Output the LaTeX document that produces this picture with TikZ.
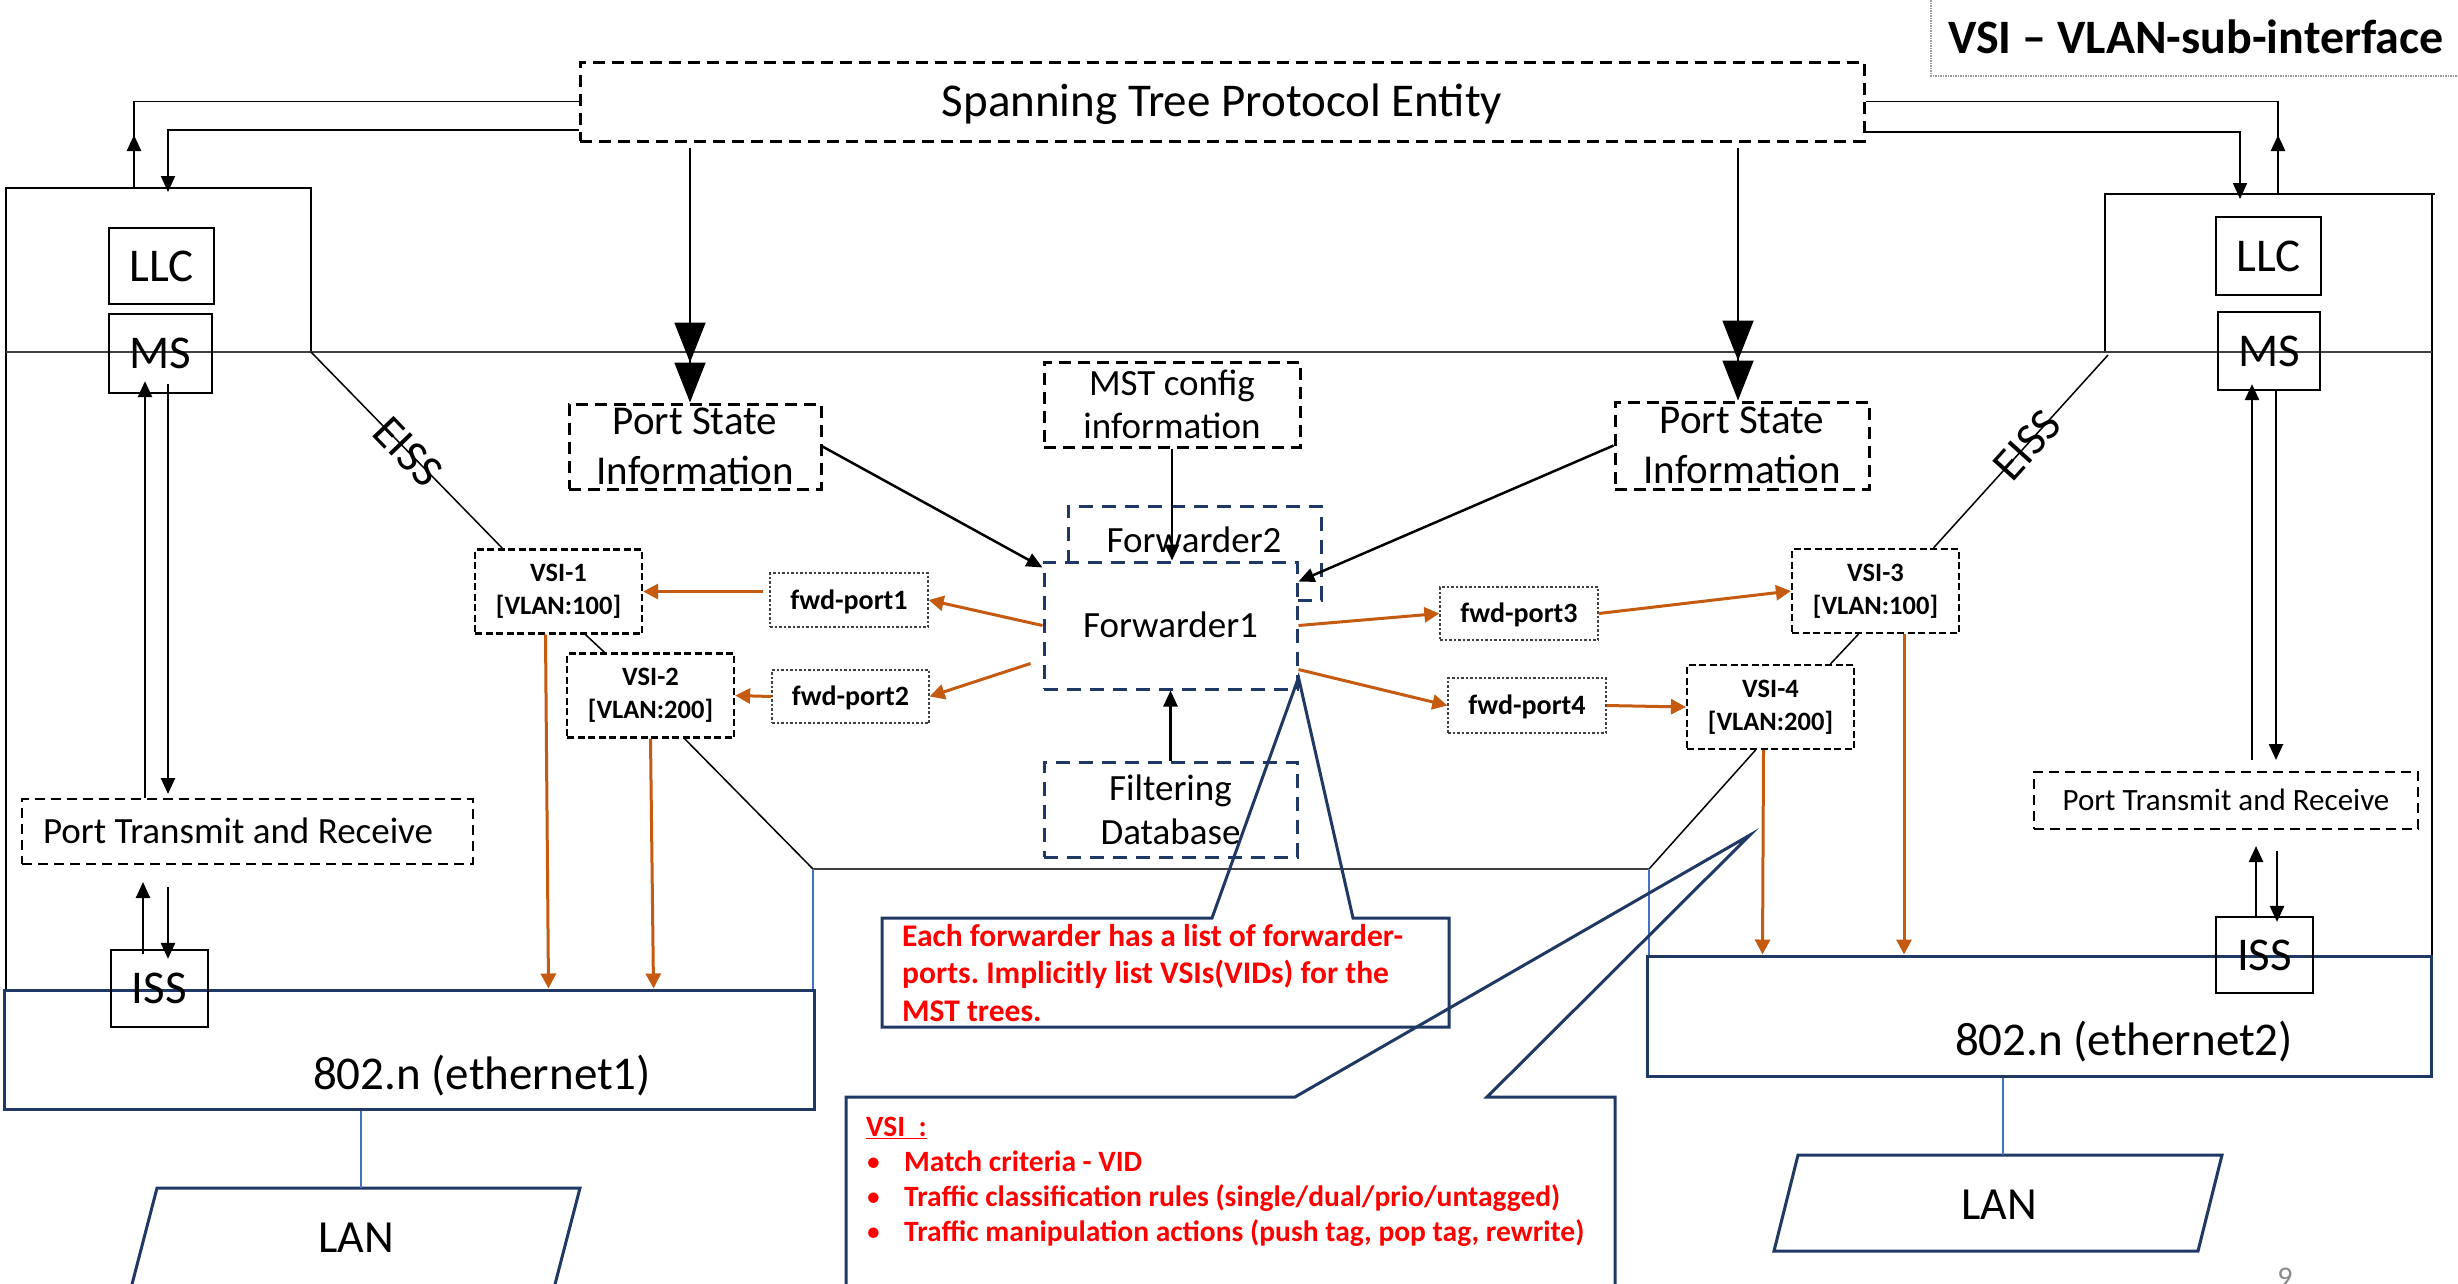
\documentclass[tikz,border=0pt]{standalone}
\usepackage{fontspec}
\setmainfont{Carlito}
\usetikzlibrary{arrows.meta}
\frenchspacing

\definecolor{navy}{HTML}{203864}
\definecolor{burnt}{HTML}{C55A11}
\definecolor{linkblue}{HTML}{4472C4}
\definecolor{alertred}{HTML}{FF0000}
\definecolor{rulegray}{HTML}{404040}
\definecolor{framegray}{HTML}{9A9A9A}
\definecolor{pagegray}{HTML}{8C8C8C}

\newcommand\fsz[2]{\fontsize{#1bp}{#2bp}\selectfont}

\tikzset{
  box/.style={draw=black, line width=2.2bp, inner sep=0pt},
  stack/.style={box, font={\fsz{47}{56}}, text height=30.3bp, text depth=0pt},
  stpbox/.style={draw=black, line width=3bp, dash pattern=on 12bp off 7bp, inner sep=0pt},
  vsibox/.style={draw=black, line width=2.2bp, dash pattern=on 7bp off 3.5bp, inner sep=0pt,
    align=center, font={\bfseries\fsz{26.5}{33}}, minimum width=167bp, minimum height=84bp},
  portbox/.style={draw=rulegray, line width=1.3bp, dash pattern=on 2.5bp off 2bp, inner sep=0pt,
    font={\bfseries\fsz{28}{34}}, text height=18bp, text depth=0pt,
    minimum width=158bp, minimum height=54bp},
  fwdbox/.style={draw=navy, line width=3bp, dash pattern=on 14bp off 9bp, inner sep=0pt,
    minimum width=253bp},
  ptrbox/.style={draw=black, line width=2bp, dash pattern=on 10bp off 6bp, inner sep=0pt},
  ethbox/.style={draw=navy, line width=3bp, inner sep=0pt},
  thinline/.style={line width=1.5bp},
  ctl/.style={draw=black, line width=2.5bp, -{Triangle[width=14bp,length=16bp]}},
  fwdarrow/.style={draw=burnt, line width=3bp, -{Triangle[width=15bp,length=15bp]}},
  bigtips/.style={draw=black, line width=1.8bp,
    -{Triangle[width=31bp,length=40bp,sep=0bp] Triangle[width=31bp,length=40bp]}},
  callout/.style={draw=navy, line width=3bp},
  note/.style={text=alertred, inner sep=0pt, align=left},
}

\begin{document}
\begin{tikzpicture}[x=1bp,y=-1bp]
\useasboundingbox (0,0) rectangle (2458,1283);
\fill[white] (0,0) rectangle (2458,1283);

% ---- heading at the top right
\draw[framegray, line width=1.2bp, dash pattern=on 1.5bp off 1bp] (1931,-10) -- (1931,76) -- (2470,76);
\node[anchor=base west, inner sep=0pt, font={\bfseries\fsz{48}{58}}] (title) at (1948,53) {VSI – VLAN-sub-interface};

% ---- spanning tree entity
\node[stpbox, minimum width=1284bp, minimum height=79bp, font={\fsz{47}{56}}, text height=30.3bp, text depth=0pt]
  (stp) at (1222,101.5) {Spanning Tree Protocol Entity};

% ---- bridge port frames and the layer line
\draw[thinline] (6,990) -- (6,188) -- (311,188) -- (311,352);
\draw[thinline] (2105,352) -- (2105,194) -- (2435,194);
\draw[thinline] (2432,194) -- (2432,958);
\draw[rulegray, thinline] (6,352) -- (2432,352);
\coordinate (eissL) at (311,352);
\coordinate (eissR) at (2108,355);
\coordinate (upL) at (134,188);
\coordinate (dnL) at (168,188);
\coordinate (upR) at (2278,194);
\coordinate (dnR) at (2240,194);

% ---- protocol stacks
\node[stack, minimum width=105bp, minimum height=76bp] (llcL) at (161.5,266) {LLC};
\node[stack, minimum width=103bp, minimum height=79bp] (msL) at (160.5,353.5) {MS};
\node[stack, minimum width=105bp, minimum height=78bp] (llcR) at (2268.5,256) {LLC};
\node[stack, minimum width=102bp, minimum height=78bp] (msR) at (2269,351) {MS};

% ---- port transmit / receive
\node[ptrbox, minimum width=451bp, minimum height=65bp] (ptrL) at (247.5,831.5) {};
\node[font={\fsz{37}{44}}, text height=23.8bp, text depth=0pt, inner sep=0pt] (ptrLtxt) at (238,831.5) {Port Transmit and Receive};
\node[ptrbox, minimum width=384bp, minimum height=57bp, font={\fsz{31}{37}}, text height=20bp, text depth=0pt]
  (ptrR) at (2226,800.5) {Port Transmit and Receive};

% ---- media
\node[ethbox, minimum width=809bp, minimum height=119bp] (eth1) at (409.5,1049.5) {};
\node[anchor=base, font={\fsz{47}{56}}, inner sep=0pt] (eth1txt) at (482,1089) {802.n (ethernet1)};
\node[ethbox, minimum width=784bp, minimum height=120bp] (eth2) at (2039,1016) {};
\node[anchor=base, font={\fsz{47}{56}}, inner sep=0pt] (eth2txt) at (2124,1055) {802.n (ethernet2)};

\node[stack, minimum width=97bp, minimum height=77bp] (issL) at (159.5,988.5) {ISS};
\node[stack, minimum width=97bp, minimum height=76bp] (issR) at (2264.5,955) {ISS};

% ---- LAN segments
\draw[navy, line width=3bp] (157,1188) -- (580,1188) -- (553,1292) -- (130,1292) -- cycle;
\node[anchor=base, font={\fsz{46}{55}}, inner sep=0pt] (lanL) at (356,1252) {LAN};
\coordinate (lanLtop) at (361,1188);
\draw[navy, line width=3bp] (1798,1155) -- (2222,1155) -- (2198,1251) -- (1774,1251) -- cycle;
\node[anchor=base, font={\fsz{46}{55}}, inner sep=0pt] (lanR) at (1999,1219) {LAN};
\coordinate (lanRtop) at (2003,1155);
\draw[linkblue, line width=1.5bp] (eth1.south -| lanLtop) -- (lanLtop);
\draw[linkblue, line width=1.5bp] (eth2.south -| lanRtop) -- (lanRtop);

% ---- port state and configuration
\node[stpbox, minimum width=252bp, minimum height=85bp, align=center, font={\fsz{41}{50}}] (psiL) at (695,446.5) {Port State\\Information};
\node[stpbox, minimum width=254bp, minimum height=87bp, align=center, font={\fsz{41}{50}}] (psiR) at (1742,445.5) {Port State\\Information};
\node[stpbox, minimum width=256bp, minimum height=85bp, align=center, font={\fsz{37}{43}}] (mst) at (1172,404.5) {MST config\\information};

% ---- forwarders
\node[fwdbox, minimum height=94bp] (f2) at (1194.5,553) {};
\node[anchor=base, font={\fsz{37}{44}}, inner sep=0pt] (f2txt) at (1194,552) {Forwarder2};
\node[fwdbox, fill=white, minimum height=127bp, font={\fsz{37}{44}}, text height=23.8bp, text depth=0pt] (f1) at (1170.5,625.5) {Forwarder1};
\node[fwdbox, minimum height=95bp, align=center, font={\fsz{37}{44}}] (fdb) at (1170.5,809.5) {Filtering\\Database};

% ---- VLAN sub-interfaces and forwarder ports
\node[vsibox] (vsi1) at (558.5,591.5) {VSI-1\\{[VLAN:100]}};
\node[vsibox] (vsi2) at (650.5,695.5) {VSI-2\\{[VLAN:200]}};
\node[vsibox] (vsi3) at (1875.5,591) {VSI-3\\{[VLAN:100]}};
\node[vsibox] (vsi4) at (1770.5,707) {VSI-4\\{[VLAN:200]}};

\node[portbox] (fp1) at (849,600) {fwd-port1};
\node[portbox, minimum width=157bp, minimum height=53bp] (fp2) at (850.5,696.5) {fwd-port2};
\node[portbox, minimum height=53bp] (fp3) at (1519,613.5) {fwd-port3};
\node[portbox, minimum height=55bp] (fp4) at (1527,705.5) {fwd-port4};

% ---- EISS links
\draw[thinline] (eissL) -- ([xshift=-56bp]vsi1.north);
\draw[thinline] (eissR) -- ([xshift=58bp]vsi3.north);
\node[font={\fsz{46}{55}}, rotate=-46, inner sep=0pt] (eissLtxt) at (408,452) {EISS};
\node[font={\fsz{46}{55}}, rotate=48, inner sep=0pt] (eissRtxt) at (2027,445) {EISS};
\draw[thinline] ([xshift=27bp]vsi1.south) -- ([xshift=-46bp]vsi2.north);
\draw[thinline] ([xshift=-17bp]vsi3.south) -- ([xshift=60bp]vsi4.north);
\coordinate (jL) at (813,869);
\coordinate (jR) at (1649,869);
\draw[thinline] ([xshift=34bp]vsi2.south) -- (jL);
\draw[thinline] ([xshift=-15bp]vsi4.south) -- (jR);
\draw[rulegray, thinline] (jL) -- (jR);
\draw[linkblue, line width=1.5bp] (jL) -- (jL |- eth1.north);
\draw[linkblue, line width=1.5bp] (jR) -- (jR |- eth2.north);

% ---- spanning tree entity to the ports
\draw[thinline] (stp.west) -| (upL);
\draw[ctl] (upL) -- ++(0,-53);
\draw[ctl, line width=2bp] ([yshift=-28.5bp]stp.west) -| ([yshift=-4bp]dnL);
\draw[thinline] (stp.east) -| (upR);
\draw[ctl] (upR) -- ++(0,-59);
\draw[ctl, line width=2bp] ([yshift=-30.5bp]stp.east) -| ([yshift=-5bp]dnR);

\draw[bigtips] ([xshift=-5bp,yshift=-5bp]psiL.north |- stp.south) -- ([xshift=-5bp]psiL.north);
\draw[bigtips] ([xshift=-4bp,yshift=-5bp]psiR.north |- stp.south) -- ([xshift=-4bp]psiR.north);

% ---- stack arrows
\draw[ctl] ([xshift=-15.5bp]msL.south |- ptrL.north) -- ([xshift=-15.5bp,yshift=13bp]msL.south);
\draw[ctl] ([xshift=7.5bp,yshift=10bp]msL.south) -- ([xshift=7.5bp,yshift=4bp]msL.south |- ptrL.north);
\draw[ctl] ([xshift=-16.5bp,yshift=-5bp]issL.north) -- ([xshift=-16.5bp,yshift=-17bp]issL.north |- ptrL.south);
\draw[ctl] ([xshift=8.5bp,yshift=-22bp]issL.north |- ptrL.south) -- ([xshift=8.5bp,yshift=-10bp]issL.north);

\draw[ctl] ([xshift=-17bp,yshift=11bp]msR.south |- ptrR.north) -- ([xshift=-17bp,yshift=7bp]msR.south);
\draw[ctl] ([xshift=7bp]msR.south) -- ([xshift=7bp,yshift=11bp]msR.south |- ptrR.north);
\draw[ctl] ([xshift=-8.5bp]issR.north) -- ([xshift=-8.5bp,yshift=-16bp]issR.north |- ptrR.south);
\draw[ctl] ([xshift=12.5bp,yshift=-21bp]issR.north |- ptrR.south) -- ([xshift=12.5bp,yshift=-6bp]issR.north);

% ---- inputs of the forwarder
\draw[ctl] (psiL.east) -- ([yshift=-7bp]f1.north west);
\draw[ctl] (psiR.west) -- ([yshift=-21bp]f1.north east);
\draw[ctl] (mst.south) -- (mst.south |- f1.north);
\draw[ctl] (fdb.north) -- (f1.south);

% ---- forwarding paths
\draw[fwdarrow] (f1.west) -- (fp1.east);
\draw[fwdarrow] ([xshift=-12bp,yshift=27bp]f1.south west) -- (fp2.east);
\draw[fwdarrow] (f1.east) -- (fp3.west);
\draw[fwdarrow] ([yshift=21bp]f1.south east) -- (fp4.west);
\draw[fwdarrow] ([xshift=-6bp]fp1.west |- vsi1.east) -- (vsi1.east);
\draw[fwdarrow] (fp2.west) -- (vsi2.east);
\draw[fwdarrow] (fp3.east) -- (vsi3.west);
\draw[fwdarrow] (fp4.east) -- (vsi4.west);
\draw[fwdarrow] ([xshift=-13bp]vsi1.south) -- ([xshift=-10bp]vsi1.south |- eth1.north);
\draw[fwdarrow] (vsi2.south) -- ([xshift=3bp]vsi2.south |- eth1.north);
\draw[fwdarrow] ([xshift=-7bp]vsi4.south) -- ([xshift=-8bp]vsi4.south |- eth2.north);
\draw[fwdarrow] ([xshift=28.5bp]vsi3.south) -- ([xshift=28.5bp]vsi3.south |- eth2.north);

% ---- notes
\draw[callout] (882,918) -- (1212,918) -- ([yshift=13bp]f1.south east) -- (1353,918) -- (1449,918)
  -- (1449,1027) -- (882,1027) -- cycle;
\node[note, anchor=north west, font={\bfseries\fsz{31.5}{37.5}}] (noteA) at (902,924)
  {Each forwarder has a list of forwarder-\\ports. Implicitly list VSIs(VIDs) for the\\MST trees.};

\coordinate (tipB) at (1750,835);
\draw[callout] (846,1300) -- (846,1097) -- (1295,1097) -- (tipB) -- (1487,1097) -- (1615,1097) -- (1615,1300);
\node[note, anchor=north west, font={\bfseries\fsz{29.5}{35}}] (noteB) at (866,1117)
  {\underline{VSI\ \ :}\\
   \makebox[38bp][l]{\mdseries •}Match criteria - VID\\
   \makebox[38bp][l]{\mdseries •}Traffic classification rules (single/dual/prio/untagged)\\
   \makebox[38bp][l]{\mdseries •}Traffic manipulation actions (push tag, pop tag, rewrite)};

% ---- slide number
\node[anchor=base, text=pagegray, font={\fsz{30}{36}}, inner sep=0pt] (pg) at (2285,1287) {9};
\end{tikzpicture}
\end{document}
